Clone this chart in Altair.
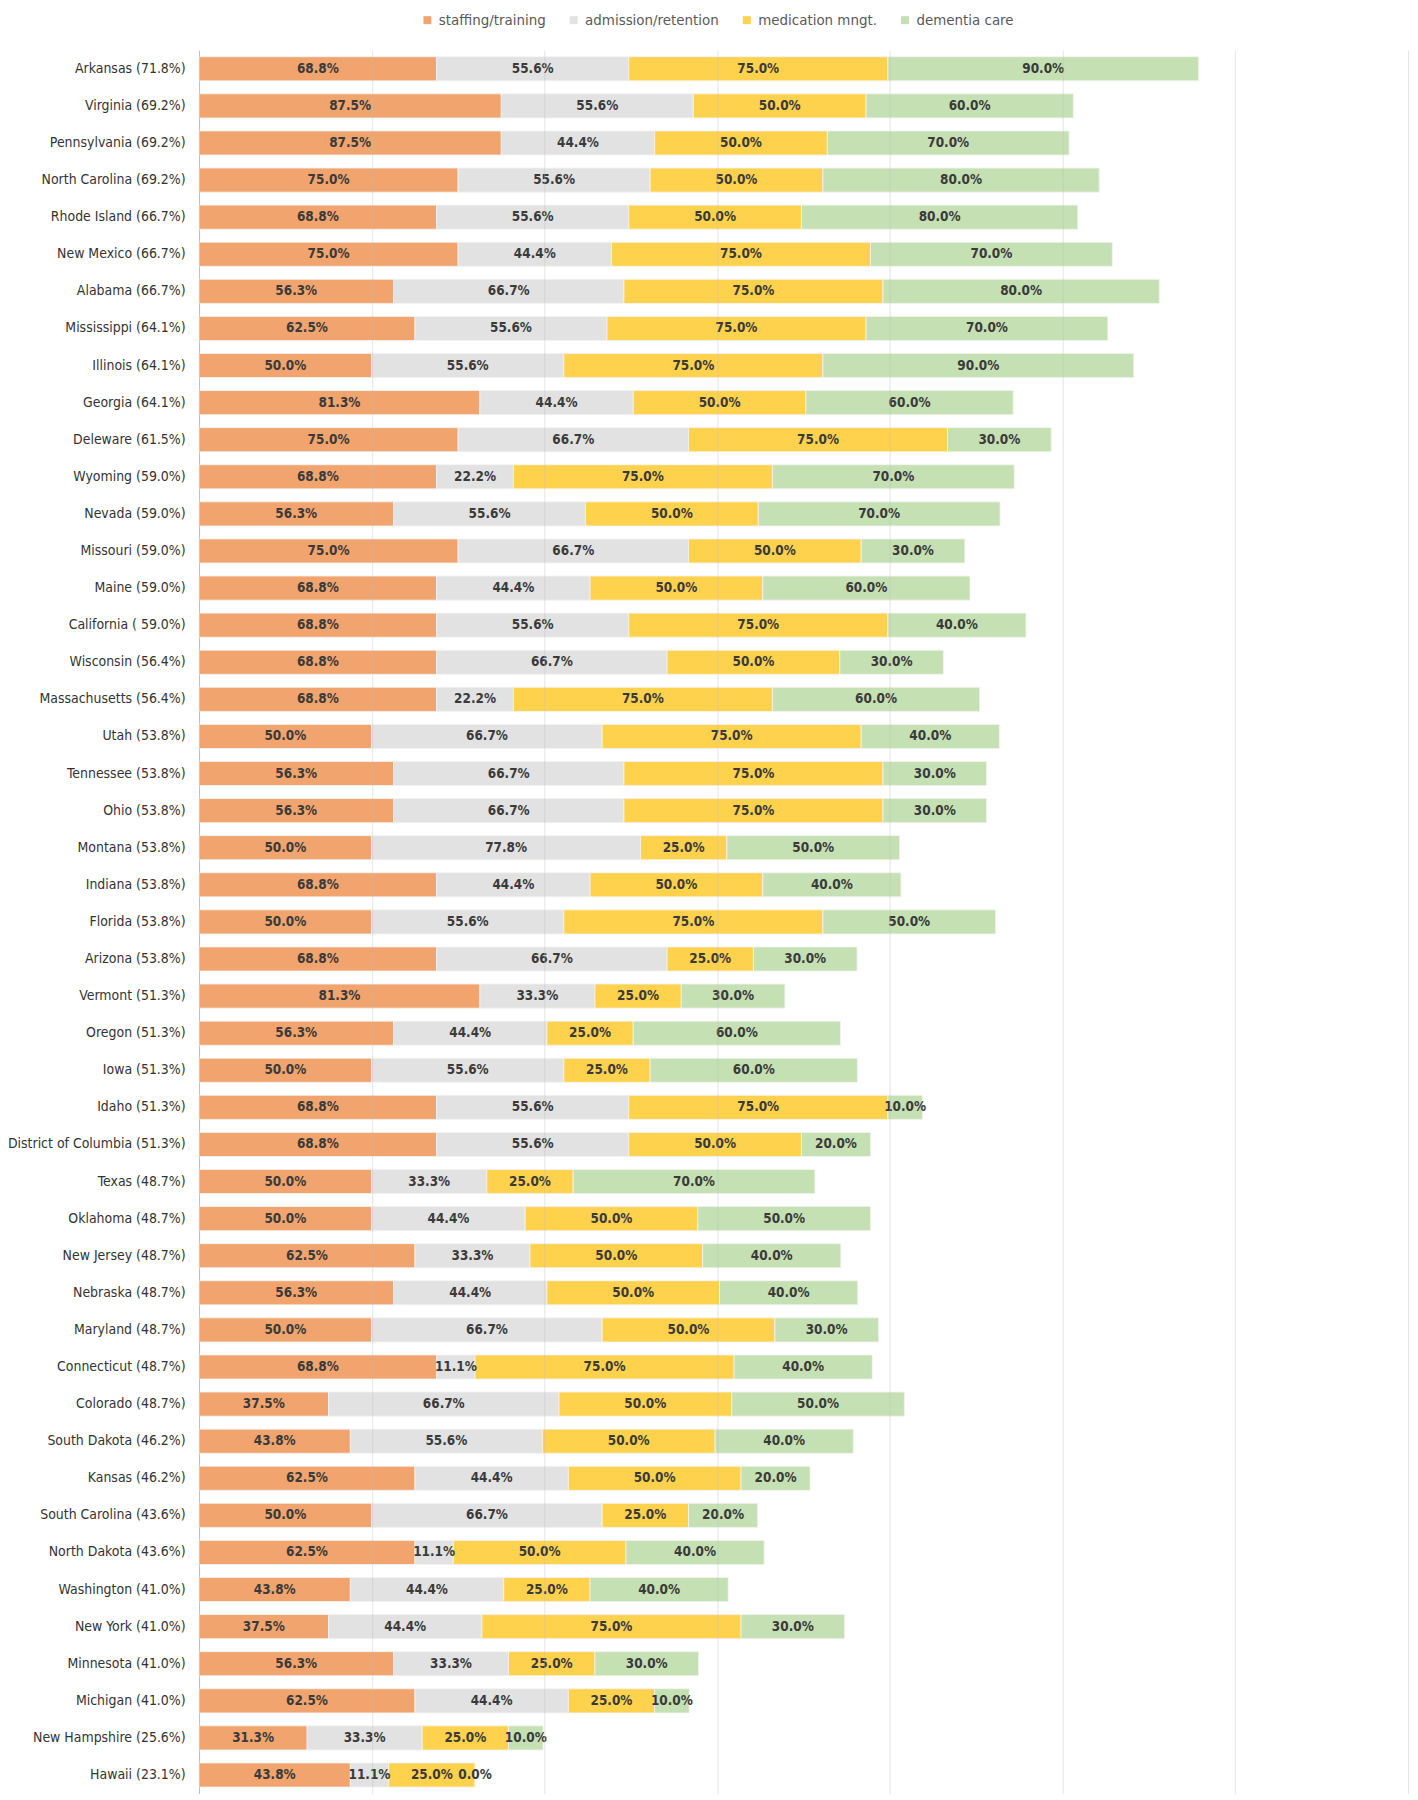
import altair as alt
import pandas as pd

states = [
    "Arkansas (71.8%)", "Virginia (69.2%)", "Pennsylvania (69.2%)", "North Carolina (69.2%)",
    "Rhode Island (66.7%)", "New Mexico (66.7%)", "Alabama (66.7%)", "Mississippi (64.1%)",
    "Illinois (64.1%)", "Georgia (64.1%)", "Deleware (61.5%)", "Wyoming (59.0%)",
    "Nevada (59.0%)", "Missouri (59.0%)", "Maine (59.0%)", "California ( 59.0%)",
    "Wisconsin (56.4%)", "Massachusetts (56.4%)", "Utah (53.8%)", "Tennessee (53.8%)",
    "Ohio (53.8%)", "Montana (53.8%)", "Indiana (53.8%)", "Florida (53.8%)",
    "Arizona (53.8%)", "Vermont (51.3%)", "Oregon (51.3%)", "Iowa (51.3%)",
    "Idaho (51.3%)", "District of Columbia (51.3%)", "Texas (48.7%)", "Oklahoma (48.7%)",
    "New Jersey (48.7%)", "Nebraska (48.7%)", "Maryland (48.7%)", "Connecticut (48.7%)",
    "Colorado (48.7%)", "South Dakota (46.2%)", "Kansas (46.2%)", "South Carolina (43.6%)",
    "North Dakota (43.6%)", "Washington (41.0%)", "New York (41.0%)", "Minnesota (41.0%)",
    "Michigan (41.0%)", "New Hampshire (25.6%)", "Hawaii (23.1%)",
]

staffing = [68.8, 87.5, 87.5, 75.0, 68.8, 75.0, 56.3, 62.5, 50.0, 81.3, 75.0, 68.8,
            56.3, 75.0, 68.8, 68.8, 68.8, 68.8, 50.0, 56.3, 56.3, 50.0, 68.8, 50.0,
            68.8, 81.3, 56.3, 50.0, 68.8, 68.8, 50.0, 50.0, 62.5, 56.3, 50.0, 68.8,
            37.5, 43.8, 62.5, 50.0, 62.5, 43.8, 37.5, 56.3, 62.5, 31.3, 43.8]
admission = [55.6, 55.6, 44.4, 55.6, 55.6, 44.4, 66.7, 55.6, 55.6, 44.4, 66.7, 22.2,
             55.6, 66.7, 44.4, 55.6, 66.7, 22.2, 66.7, 66.7, 66.7, 77.8, 44.4, 55.6,
             66.7, 33.3, 44.4, 55.6, 55.6, 55.6, 33.3, 44.4, 33.3, 44.4, 66.7, 11.1,
             66.7, 55.6, 44.4, 66.7, 11.1, 44.4, 44.4, 33.3, 44.4, 33.3, 11.1]
medication = [75.0, 50.0, 50.0, 50.0, 50.0, 75.0, 75.0, 75.0, 75.0, 50.0, 75.0, 75.0,
              50.0, 50.0, 50.0, 75.0, 50.0, 75.0, 75.0, 75.0, 75.0, 25.0, 50.0, 75.0,
              25.0, 25.0, 25.0, 25.0, 75.0, 50.0, 25.0, 50.0, 50.0, 50.0, 50.0, 75.0,
              50.0, 50.0, 50.0, 25.0, 50.0, 25.0, 75.0, 25.0, 25.0, 25.0, 25.0]
dementia = [90.0, 60.0, 70.0, 80.0, 80.0, 70.0, 80.0, 70.0, 90.0, 60.0, 30.0, 70.0,
            70.0, 30.0, 60.0, 40.0, 30.0, 60.0, 40.0, 30.0, 30.0, 50.0, 40.0, 50.0,
            30.0, 30.0, 60.0, 60.0, 10.0, 20.0, 70.0, 50.0, 40.0, 40.0, 30.0, 40.0,
            50.0, 40.0, 20.0, 20.0, 40.0, 40.0, 30.0, 30.0, 10.0, 10.0, 0.0]

categories = ["staffing/training", "admission/retention", "medication mngt.", "dementia care"]
colors = ["#F1A46D", "#E2E2E2", "#FFD24D", "#C5E0B3"]
series = [staffing, admission, medication, dementia]

rows = []
for i, s in enumerate(states):
    for k, cat in enumerate(categories):
        v = series[k][i]
        rows.append({"state": s, "category": cat, "order": k, "value": v,
                     "label": f"{v:.1f}%"})
df = pd.DataFrame(rows)

FONT = "DejaVu Sans Condensed"

base = alt.Chart(df).transform_stack(
    stack="value", groupby=["state"], as_=["x0", "x1"],
    sort=[alt.SortField("order", order="ascending")]
).transform_calculate(mid="(datum.x0 + datum.x1) / 2")

y_enc = alt.Y("state:N", sort=states, title=None,
              scale=alt.Scale(paddingInner=0.35, paddingOuter=0.175),
              axis=alt.Axis(labelFontSize=14, labelColor="#333333", labelFont=FONT,
                            ticks=False, domain=True, domainColor="#BFBFBF",
                            labelPadding=14, labelLimit=300))

bars = base.mark_bar(stroke="#F4F4F4", strokeWidth=0.8).encode(
    x=alt.X("x0:Q", scale=alt.Scale(domain=[0, 350], nice=False),
            axis=alt.Axis(values=[0, 50, 100, 150, 200, 250, 300, 350], labels=False,
                          ticks=False, domain=False, grid=True, gridColor="#BDBDBD",
                          gridOpacity=0.4, zindex=1, title=None)),
    x2="x1:Q",
    y=y_enc,
    color=alt.Color("category:N",
                    scale=alt.Scale(domain=categories, range=colors),
                    legend=alt.Legend(orient="none", legendX=222, legendY=-38,
                                      direction="horizontal", title=None,
                                      symbolType="square", symbolSize=64,
                                      symbolStrokeWidth=0,
                                      labelFontSize=15, labelFont=FONT,
                                      labelColor="#595959", labelOffset=4,
                                      columnPadding=20, padding=0)),
    order=alt.Order("order:Q"),
)

labels = base.mark_text(fontSize=13.5, font=FONT, color="#3A3A3A", fontWeight="bold",
                        align="center", baseline="middle").encode(
    x=alt.X("mid:Q"),
    y=alt.Y("state:N", sort=states),
    text="label:N",
)

chart = alt.layer(bars, labels).properties(
    width=1215, height=1752,
    autosize=alt.AutoSizeParams(type="none"),
    padding={"left": 192, "top": 38, "right": 2, "bottom": 0},
).configure_view(stroke=None)

chart.save("out.html", embed_options={"renderer": "svg", "actions": False})
